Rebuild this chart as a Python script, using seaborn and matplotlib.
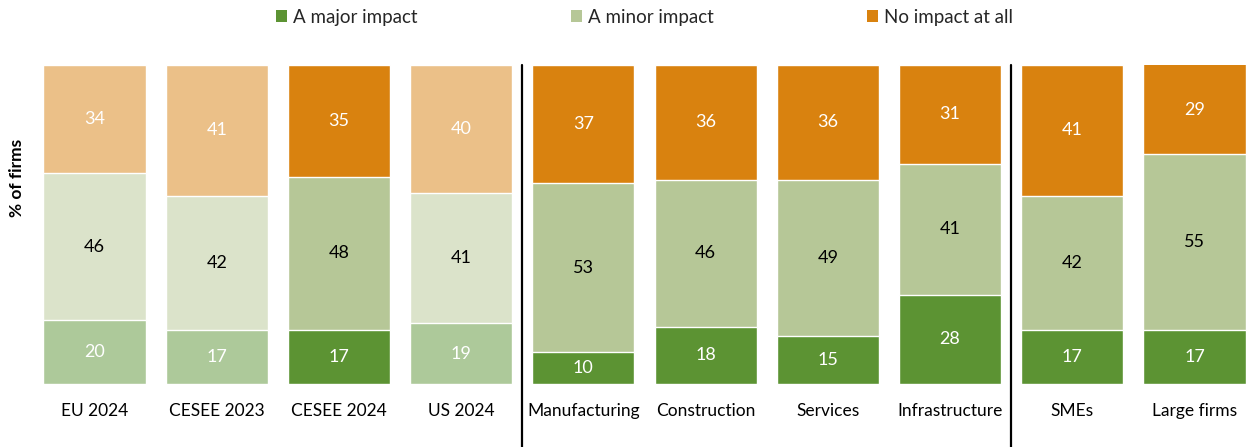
import matplotlib
matplotlib.use("Agg")
import matplotlib.pyplot as plt
import seaborn as sns
import numpy as np
import pandas as pd
from matplotlib.patches import Patch

categories = ["EU 2024", "CESEE 2023", "CESEE 2024", "US 2024",
              "Manufacturing", "Construction", "Services", "Infrastructure",
              "SMEs", "Large firms"]
major = [20, 17, 17, 19, 10, 18, 15, 28, 17, 17]
minor = [46, 42, 48, 41, 53, 46, 49, 41, 42, 55]
no_impact = [34, 41, 35, 40, 37, 36, 36, 31, 41, 29]
series_names = ["A major impact", "A minor impact", "No impact at all"]
muted = [True, True, False, True, False, False, False, False, False, False]

full_cols = ["#5C9333", "#B6C797", "#D9820F"]
soft_cols = ["#ADC99A", "#DBE3CA", "#EBC088"]

sns.set_theme(style="white")
plt.rcParams["font.family"] = ["Lato", "DejaVu Sans"]

fig = plt.figure(figsize=(12.47, 4.47), dpi=100)
ax = fig.add_axes([33.4 / 1247, 63 / 447, 1222.2 / 1247, 319 / 447])

df = pd.DataFrame({"cat": categories, "major": major, "minor": minor, "none": no_impact})
df["c1"] = df["major"]
df["c2"] = df["major"] + df["minor"]
df["c3"] = df["c2"] + df["none"]

# stacked look: draw cumulative totals from the top layer down
layers = [("c3", 2), ("c2", 1), ("c1", 0)]
for col, k in layers:
    pal = {c: (soft_cols[k] if m else full_cols[k]) for c, m in zip(categories, muted)}
    sns.barplot(data=df, x="cat", y=col, hue="cat", palette=pal, legend=False,
                width=0.835, saturation=1, edgecolor="white", linewidth=1.0, ax=ax)

# value labels at the middle of the visible part of each segment
for i in range(len(categories)):
    segs = [major[i], minor[i], no_impact[i]]
    base = 0
    for k, v in enumerate(segs):
        top = min(base + v, 100)
        mid = (base + top) / 2
        tc = "black" if k == 1 else "white"
        ax.text(i, mid, str(v), ha="center", va="center", fontsize=13, color=tc)
        base += v

ax.set_ylim(0, 100)
ax.set_xlim(-0.5, 9.5)
ax.set_xlabel("")
ax.set_ylabel("")
ax.set_yticks([])
ax.tick_params(axis="x", length=0, pad=14, labelsize=12.5, labelcolor="black")
for s in ax.spines.values():
    s.set_visible(False)

# group separators
for xs in (3.5, 7.5):
    ax.axvline(xs, ymin=-63 / 319, ymax=1.0, color="black", linewidth=1.6, clip_on=False)

fig.text(17 / 1247, 1 - 178 / 447, "% of firms", rotation=90, ha="center", va="center",
         fontsize=12.5, fontweight="bold", color="black")

# one legend entry per series, spread across the top
legend_x = [276, 571, 867]
for name, col, lx in zip(series_names, full_cols, legend_x):
    fig.legend([Patch(facecolor=col, edgecolor="none")], [name], loc="center left",
               bbox_to_anchor=(lx / 1247, 1 - 17 / 447), frameon=False, fontsize=13.5,
               handlelength=0.6, handleheight=0.55, handletextpad=0.3,
               borderpad=0, borderaxespad=0)

fig.savefig("out.png", dpi=100)
